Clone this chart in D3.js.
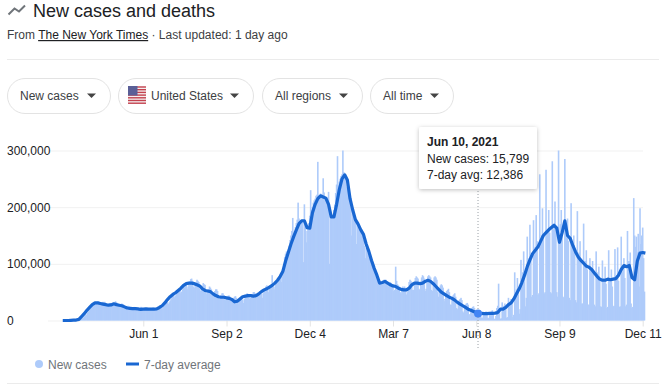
<!DOCTYPE html>
<html>
<head>
<meta charset="utf-8">
<script src="https://d3js.org/d3.v7.min.js"></script>
<style>
  html, body { margin: 0; padding: 0; background: #fff; }
  svg { display: block; font-family: "Liberation Sans", Arial, sans-serif; }
</style>
</head>
<body>
<div id="chart"></div>
<script>
// new cases per day in thousands, one row = one week, starts Mar 3 2020
const dailyCases = [
  0,0,0,0,0,0,0,
  0,0,0,1,0,1,1,
  1,1,1,1,2,2,2,
  3,4,5,7,9,10,11,
  14,16,18,21,23,25,26,
  27,28,30,32,33,34,31,
  29,30,31,33,32,33,28,
  27,28,29,30,31,29,26,
  27,29,31,34,32,31,27,
  26,27,28,30,29,28,25,
  22,23,24,26,25,24,21,
  20,21,22,24,23,23,19,
  20,21,22,24,24,22,19,
  19,20,21,22,22,21,18,
  19,20,21,23,22,21,18,
  19,21,22,25,27,24,21,
  24,26,28,31,33,32,29,
  32,35,38,42,44,46,41,
  44,47,50,52,55,54,48,
  51,55,59,62,65,63,56,
  60,65,69,73,74,70,60,
  58,63,68,72,70,68,56,
  52,58,61,66,64,63,52,
  47,52,55,60,58,55,46,
  44,48,52,55,55,52,43,
  38,42,44,48,48,45,37,
  36,39,41,44,44,42,35,
  34,38,40,42,43,40,34,
  30,33,35,38,38,36,31,
  38,42,45,48,47,45,38,
  40,43,46,50,50,48,40,
  41,44,46,52,50,47,40,
  48,52,55,60,62,57,50,
  56,57,60,80,62,60,55,
  64,66,70,74,72,76,68,
  80,88,100,112,118,122,115,
  125,132,142,150,158,181,150,
  158,165,172,178,208,180,170,
  176,178,178,103,205,168,138,
  158,162,172,185,230,195,200,
  208,212,215,220,222,280,218,
  220,224,218,222,251,226,216,
  212,215,205,227,100,190,182,
  180,186,195,205,225,240,290,
  238,245,250,255,258,300,262,
  255,250,235,240,225,218,210,
  200,150,192,185,180,178,135,
  172,170,165,160,158,152,150,
  142,132,110,128,125,120,115,
  112,105,98,100,92,88,85,
  80,75,72,70,68,66,66,
  66,68,72,70,72,68,62,
  60,64,68,66,62,60,52,
  54,95,70,64,62,60,50,
  48,55,60,58,60,56,46,
  50,58,68,72,70,68,54,
  54,65,75,78,76,74,56,
  54,66,76,80,78,74,52,
  56,70,78,80,78,76,54,
  52,68,76,78,76,72,50,
  42,54,62,64,62,58,38,
  34,46,52,54,56,50,28,
  28,38,44,46,48,42,22,
  20,30,36,38,40,36,16,
  14,22,28,30,31,28,11,
  11,18,22,24,25,22,8,
  7,13,15,16,18,15,5,
  5,12,13,15,16,14,5,
  4,12,14,16,18,14,3,
  3,8,22,26,65,22,3,
  4,32,24,26,30,26,5,
  6,40,30,34,38,30,6,
  10,85,50,55,75,50,12,
  20,107,75,85,122,80,25,
  40,148,105,110,169,115,42,
  45,177,120,130,186,140,45,
  48,258,140,150,198,150,48,
  50,266,150,160,195,155,50,
  48,281,160,165,210,165,50,
  42,300,150,170,195,150,42,
  40,285,165,165,180,140,40,
  36,207,130,130,150,125,36,
  32,193,115,120,140,110,30,
  30,171,105,105,124,90,28,
  28,110,90,90,105,85,28,
  25,122,80,85,95,70,25,
  24,106,75,75,95,65,22,
  24,124,70,75,90,60,25,
  26,126,75,80,129,70,24,
  25,148,85,90,110,75,25,
  28,158,105,105,120,30,22,
  24,216,150,130,148,120,153,
  60,198,135,150,164,110,51
];

// 7-day average in thousands, one value every third day from Mar 3 2020
const avgCases = [
  0,0,0,0.3,0.5,0.8,2,7,12,18,23,28,31,31,30,29,28,27,27.5,29.5,
  28,27,26,24,22,21.5,21,21,20.5,19.5,20,20.5,20,20,20,20.5,23,26,31,37,
  42,46,49,53,57,62,65,66,66,65,63,61,56,53,52,51,47,44,42,41,
  41,40,39,37,33,34,38,42,43,44,44,43,44,47,51,54,56,59,62,66,
  71,78,87,105,120,135,148,160,171,176,176,164,163,190,205,215,220,218,216,205,
  183,183,205,231,250,257,248,215,195,178,170,160,152,135,122,106,92,80,66,67,
  69,66,63,61,60,57,55,54,54,57,63,66,66,65,66,69,71,69,65,60,
  55,50,47,44,41,39,36,32,29,26,23,20,18,16,14,13,12.5,12,12,12.5,
  12.5,13,14,20,20,23,28,31,38,47,56,67,80,95,107,118,124,130,140,150,
  155,160,164,168,163,138,155,176,150,145,132,121,112,106,101,96,94,90,84,78,
  73,71,71,73,72,73,74,80,90,97,95,97,76,72,105,119,120,119
];

const yTicks = [0, 100000, 200000, 300000];
const xTickDates = ["2020-06-01", "2020-09-02", "2020-12-04", "2021-03-07", "2021-06-08", "2021-09-09", "2021-12-11"];
const xTickLabels = ["Jun 1", "Sep 2", "Dec 4", "Mar 7", "Jun 8", "Sep 9", "Dec 11"];
const chipLabels = ["New cases", "United States", "All regions", "All time"];
const tooltipLines = ["Jun 10, 2021", "New cases: 15,799", "7-day avg: 12,386"];
const hoverDate = "2021-06-10";
const hoverAvg = 12386;

const width = 666;
const height = 388;

const parseDay = d3.utcParse("%Y-%m-%d");
const startDate = parseDay("2020-03-03");
const day = i => d3.utcDay.offset(startDate, i);

const x = d3.scaleUtc()
  .domain([parseDay("2020-06-01"), parseDay("2021-12-11")])
  .range([143.3, 642.7]);
const y = d3.scaleLinear().domain([0, 300000]).range([320.5, 150.5]);

const svg = d3.select("#chart").append("svg")
  .attr("width", width)
  .attr("height", height);

/* header */
svg.append("polyline")
  .attr("points", "8.5,14.5 14.5,8.5 19,11.5 25,5.5")
  .attr("fill", "none")
  .attr("stroke", "#70757a")
  .attr("stroke-width", 2);

svg.append("text")
  .attr("x", 33).attr("y", 17)
  .style("font-size", "18px")
  .style("fill", "#202124")
  .text("New cases and deaths");

const sub = svg.append("text")
  .attr("x", 7).attr("y", 39)
  .style("font-size", "12px")
  .style("fill", "#3c4043");
sub.append("tspan").text("From ");
sub.append("tspan").attr("text-decoration", "underline").style("fill", "#202124").text("The New York Times");
sub.append("tspan").text(" · Last updated: 1 day ago");

svg.append("line")
  .attr("x1", 7).attr("x2", 659)
  .attr("y1", 59.5).attr("y2", 59.5)
  .attr("stroke", "#ebebeb");

/* filter chips */
const chipBoxes = [[7, 103], [118, 135], [262, 100], [370, 83]];
const chipTextX = [20, 151, 275, 383];

chipLabels.forEach((label, i) => {
  const [cx, cw] = chipBoxes[i];
  svg.append("rect")
    .attr("x", cx + 0.5).attr("y", 78.5)
    .attr("width", cw).attr("height", 35)
    .attr("rx", 17.5)
    .attr("fill", "#fff")
    .attr("stroke", "#e3e3e3");
  svg.append("text")
    .attr("x", chipTextX[i]).attr("y", 100)
    .style("font-size", "12px")
    .style("fill", "#3c4043")
    .text(label);
  const caret = cx + cw - 23;
  svg.append("path")
    .attr("d", `M${caret},93.5 h9 l-4.5,4.5 z`)
    .attr("fill", "#444");
});

/* flag */
const flag = svg.append("g").attr("transform", "translate(128,86)");
flag.append("rect").attr("width", 18).attr("height", 18).attr("rx", 2).attr("fill", "#f4f0f0");
d3.range(0, 7).forEach(i => {
  flag.append("rect")
    .attr("y", 0.3 + i * 2.7).attr("width", 18).attr("height", 1.4)
    .attr("fill", "#c4424f");
});
flag.append("rect").attr("width", 9.5).attr("height", 9.5).attr("fill", "#5a5f97");

/* axes */
const gridG = svg.append("g")
  .attr("transform", "translate(48,0)")
  .call(d3.axisLeft(y).tickValues(yTicks).tickSize(-595).tickFormat(d3.format(",")));
gridG.select(".domain").remove();
gridG.selectAll(".tick line").attr("stroke", "#f1f1f1");
gridG.selectAll(".tick text")
  .attr("x", -41)
  .attr("dy", "0.34em")
  .attr("text-anchor", "start")
  .style("font-family", "\"Liberation Sans\", Arial, sans-serif")
  .style("font-size", "12px")
  .style("fill", "#202124");

const xAxisG = svg.append("g")
  .attr("transform", "translate(0,320.5)")
  .call(d3.axisBottom(x)
    .tickValues(xTickDates.map(parseDay))
    .tickSize(6)
    .tickFormat((d, i) => xTickLabels[i]));
xAxisG.select(".domain").remove();
xAxisG.selectAll(".tick line").attr("stroke", "#e3e3e3");
xAxisG.selectAll(".tick text")
  .attr("y", 13)
  .attr("dy", "0.34em")
  .style("font-family", "\"Liberation Sans\", Arial, sans-serif")
  .style("font-size", "12px")
  .style("fill", "#202124");

/* bars */
svg.append("g")
  .selectAll("rect")
  .data(dailyCases)
  .join("rect")
  .attr("x", (d, i) => x(day(i)) - 0.8)
  .attr("y", d => y(d * 1000))
  .attr("width", 1.6)
  .attr("height", d => y(0) - y(d * 1000))
  .attr("fill", "#aecbfa");

/* hover rule, goes behind the line */
svg.append("line")
  .attr("x1", x(parseDay(hoverDate))).attr("x2", x(parseDay(hoverDate)))
  .attr("y1", 188).attr("y2", 349)
  .attr("stroke", "#9aa0a6")
  .attr("stroke-dasharray", "1,2");

/* 7-day average */
const avgLine = d3.line()
  .x((d, i) => x(day(i * 3)))
  .y(d => y(d * 1000));

svg.append("path")
  .datum(avgCases)
  .attr("d", avgLine)
  .attr("fill", "none")
  .attr("stroke", "#1967d2")
  .attr("stroke-width", 3.2)
  .attr("stroke-linejoin", "round");

svg.append("circle")
  .attr("cx", x(parseDay(hoverDate)))
  .attr("cy", y(hoverAvg))
  .attr("r", 4)
  .attr("fill", "#4285f4");

/* tooltip */
const defs = svg.append("defs");
const shadow = defs.append("filter").attr("id", "tipShadow")
  .attr("x", "-10%").attr("y", "-10%").attr("width", "120%").attr("height", "125%");
shadow.append("feDropShadow")
  .attr("dx", 0).attr("dy", 1).attr("stdDeviation", 2)
  .attr("flood-color", "#000").attr("flood-opacity", 0.25);

svg.append("rect")
  .attr("x", 419).attr("y", 127)
  .attr("width", 118).attr("height", 62)
  .attr("rx", 2)
  .attr("fill", "#fff")
  .attr("filter", "url(#tipShadow)");

tooltipLines.forEach((t, i) => {
  svg.append("text")
    .attr("x", 427).attr("y", 146 + i * 16.5)
    .style("font-size", "12px")
    .style("font-weight", i === 0 ? "bold" : "normal")
    .style("fill", "#202124")
    .text(t);
});

/* legend */
svg.append("circle").attr("cx", 39).attr("cy", 364).attr("r", 4).attr("fill", "#aecbfa");
svg.append("text")
  .attr("x", 48).attr("y", 368.5)
  .style("font-size", "12px").style("fill", "#70757a")
  .text("New cases");
svg.append("line")
  .attr("x1", 126).attr("x2", 139)
  .attr("y1", 364).attr("y2", 364)
  .attr("stroke", "#1967d2").attr("stroke-width", 3);
svg.append("text")
  .attr("x", 144).attr("y", 368.5)
  .style("font-size", "12px").style("fill", "#70757a")
  .text("7-day average");

svg.append("line")
  .attr("x1", 7).attr("x2", 659)
  .attr("y1", 383.5).attr("y2", 383.5)
  .attr("stroke", "#ebebeb");
</script>
</body>
</html>
